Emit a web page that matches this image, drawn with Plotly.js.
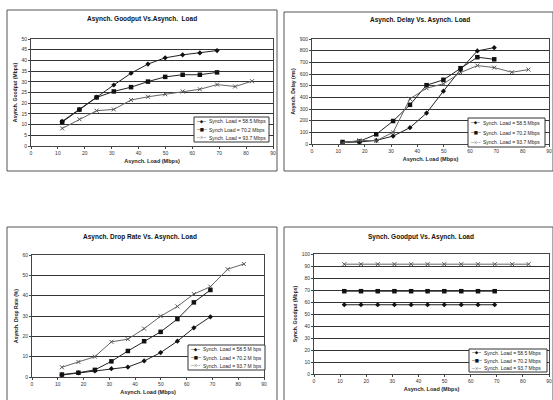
<!DOCTYPE html>
<html><head><meta charset="utf-8">
<script src="https://cdn.plot.ly/plotly-3.0.1.min.js"></script>
<style>body{margin:0;background:#fff}#c{width:553px;height:400px}</style>
</head><body><div id="c"></div>
<script>
const loadX = [11.6, 18, 24.4, 30.8, 37.2, 43.5, 49.9, 56.4, 62.8, 69.2, 75.9, 82.2];
const seriesNames = ['Synch. Load = 58.5 Mbps', 'Synch Load = 70.2 Mbps', 'Synch. Load = 93.7 Mbps'];
const seriesNamesDrop = ['Synch. Load = 58.5 M bps', 'Synch. Load = 70.2 M bps', 'Synch. Load = 93.7 M bps'];
const goodput58 = [11.5, 17, 22.8, 28.5, 34, 38.3, 41.2, 42.6, 43.5, 44.6];
const goodput70 = [11.2, 17, 22.7, 25.5, 27.5, 30.1, 32.3, 33.3, 33.3, 34.4];
const goodput93 = [8.2, 12.5, 16.5, 17.1, 21.5, 23, 24.2, 25.5, 26.5, 28.7, 27.8, 30.3];
const delay58 = [14, 17, 31, 68, 140, 265, 453, 638, 798, 826];
const delay70 = [17, 23, 83, 197, 336, 504, 550, 650, 744, 726];
const delay93 = [9, 31, 28, 100, 387, 478, 516, 612, 672, 655, 615, 638];
const drop58 = [1, 2, 3, 4.1, 4.9, 7.9, 12, 17.6, 24.2, 29.6];
const drop70 = [1.2, 2.1, 3.5, 7.7, 12.8, 17.6, 22.2, 28.5, 36.7, 42.8];
const drop93 = [4.8, 7.4, 10, 17.3, 18.6, 23.8, 29.9, 34.7, 40.8, 44.4, 53, 55.6];
const sync58 = [57.7, 57.7, 57.7, 57.7, 57.7, 57.7, 57.7, 57.7, 57.7, 57.7];
const sync70 = [69, 69, 69, 69, 69, 69, 69, 69, 69, 69];
const sync93 = [91.5, 91.5, 91.5, 91.5, 91.5, 91.5, 91.5, 91.5, 91.5, 91.5, 91.5, 91.5];

const W = 553, H = 400;
const px = v => v / W, py = v => 1 - v / H;
const FONT = 'Liberation Sans, Arial, sans-serif';
const SYMF = 'DejaVu Sans, sans-serif';

const styles = [
  {marker: {symbol: 'diamond', size: 4, color: '#111'}, line: {color: '#222', width: 1}},
  {marker: {symbol: 'square', size: 4.5, color: '#111'}, line: {color: '#222', width: 1}},
  {marker: {symbol: 'x-thin-open', size: 4, color: '#555', line: {width: 1, color: '#555'}}, line: {color: '#666', width: 1}}
];

const charts = [
  {title: 'Asynch. Goodput Vs.Asynch.  Load', ytitle: 'Asynch. Goodput (Mbps)', data: [goodput58, goodput70, goodput93], names: seriesNames,
   yr: [0, 50], dy: 5, plot: [31, 273, 39, 146], frame: [7, 277, 10, 171], tpos: [142, 19], leg: [194, 269, 117, 142]},
  {title: 'Asynch. Delay Vs. Asynch. Load', ytitle: 'Asynch. Delay (ms)', data: [delay58, delay70, delay93], names: seriesNames.map(s => s.replace('Synch Load', 'Synch. Load')),
   yr: [0, 900], dy: 100, plot: [312, 549, 39, 144], frame: [284, 553, 12, 171], tpos: [420, 20], leg: [468, 545, 118, 147]},
  {title: 'Asynch. Drop Rate Vs. Asynch. Load', ytitle: 'Asynch. Drop Rate (%)', data: [drop58, drop70, drop93], names: seriesNamesDrop,
   yr: [0, 60], dy: 10, plot: [32, 264, 255, 377], frame: [7, 277, 227, 401], tpos: [140, 237], leg: [188, 265, 345, 370]},
  {title: 'Synch. Goodput Vs. Asynch. Load', ytitle: 'Synch. Goodput (Mbps)', data: [sync58, sync70, sync93], names: seriesNames.map(s => s.replace('Synch Load', 'Synch. Load')),
   yr: [0, 100], dy: 10, plot: [314, 549, 254, 374], frame: [284, 553, 227, 401], tpos: [421, 237], leg: [469, 547, 349, 372]}
];

const traces = [], shapes = [], annotations = [];
const layout = {width: W, height: H, margin: {l: 0, r: 0, t: 0, b: 0}, paper_bgcolor: '#fff', plot_bgcolor: '#fff',
  showlegend: false, font: {family: FONT, size: 5, color: '#222'}};
const legSyms = ['\u2500\u25C6\u2500', '\u2500\u25A0\u2500', '\u2500\u00D7\u2500'];

charts.forEach((c, i) => {
  const n = i + 1;
  const xa = 'xaxis' + (n === 1 ? '' : n), ya = 'yaxis' + (n === 1 ? '' : n);
  const xr = 'x' + (n === 1 ? '' : n), yr = 'y' + (n === 1 ? '' : n);
  layout[xa] = {domain: [px(c.plot[0]), px(c.plot[1])], range: [0, 90], dtick: 10, anchor: yr,
    showgrid: false, zeroline: false, showline: true, linecolor: '#444', linewidth: 1, mirror: true,
    ticks: 'outside', ticklen: 2, tickcolor: '#444', tickfont: {size: 5, color: '#333'},
    title: {text: '<b>Asynch. Load (Mbps)</b>', font: {size: 5.5, color: '#222'}, standoff: 4}};
  layout[ya] = {domain: [py(c.plot[3]), py(c.plot[2])], range: c.yr, dtick: c.dy, anchor: xr,
    showgrid: true, gridcolor: '#333', gridwidth: 1, zeroline: false, showline: true, linecolor: '#444', linewidth: 1, mirror: true,
    ticks: 'outside', ticklen: 2, tickcolor: '#444', tickfont: {size: 5, color: '#333'},
    title: {text: '<b>' + c.ytitle + '</b>', font: {size: 5, color: '#222'}, standoff: 3}};
  c.data.forEach((d, k) => {
    traces.push({type: 'scatter', mode: 'lines+markers', x: loadX.slice(0, d.length), y: d, xaxis: xr, yaxis: yr,
      name: c.names[k], marker: styles[k].marker, line: styles[k].line});
  });
  shapes.push({type: 'rect', xref: 'paper', yref: 'paper', x0: px(c.frame[0]), x1: px(c.frame[1]), y0: py(c.frame[3]), y1: py(c.frame[2]),
    line: {color: '#555', width: 1}, fillcolor: 'rgba(0,0,0,0)', layer: 'below'});
  annotations.push({xref: 'paper', yref: 'paper', x: px(c.tpos[0]), y: py(c.tpos[1]), text: '<b>' + c.title + '</b>',
    showarrow: false, xanchor: 'center', yanchor: 'middle', font: {size: 6.5, color: '#111', family: FONT}});
  const L = c.leg;
  shapes.push({type: 'rect', xref: 'paper', yref: 'paper', x0: px(L[0]), x1: px(L[1]), y0: py(L[3]), y1: py(L[2]),
    line: {color: '#333', width: 1}, fillcolor: '#fff', layer: 'above'});
  const rowH = (L[3] - L[2]) / 3;
  c.names.forEach((nm, k) => {
    const yy = L[2] + rowH * (k + 0.5);
    annotations.push({xref: 'paper', yref: 'paper', x: px(L[0] + 1), y: py(yy), text: legSyms[k], showarrow: false,
      xanchor: 'left', yanchor: 'middle', borderpad: 0, font: {size: 4.5, family: SYMF, color: k === 2 ? '#555' : '#111'}});
    annotations.push({xref: 'paper', yref: 'paper', x: px(L[0] + 14), y: py(yy), text: nm, showarrow: false,
      xanchor: 'left', yanchor: 'middle', borderpad: 0, font: {size: 5, family: FONT, color: '#222'}});
  });
});
layout.shapes = shapes;
layout.annotations = annotations;
Plotly.newPlot('c', traces, layout, {staticPlot: true, displayModeBar: false});
</script></body></html>
